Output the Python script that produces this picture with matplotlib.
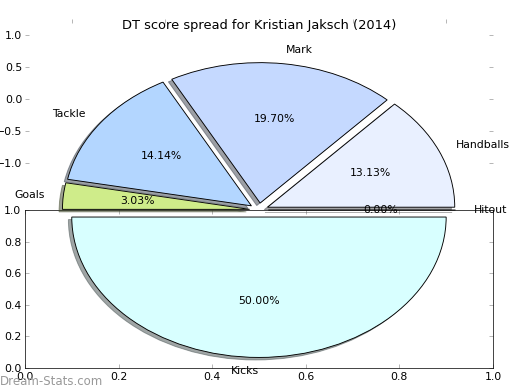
import matplotlib
matplotlib.use('Agg')
import matplotlib.pyplot as plt

# DT points per category (share of 198 total)
labels = ['Handballs', 'Mark', 'Tackle', 'Goals', 'Kicks', 'Hitout']
points = [26, 39, 28, 6, 99, 0]
colors = ['#e9f0ff', '#c5d9ff', '#b3d6ff', '#cfec8a', '#d8ffff', '#ffffff']
explode = [0.05, 0.05, 0.05, 0.05, 0.05, 0.05]

ticks_pm = [-1.0, -0.5, 0.0, 0.5, 1.0]
ticks_01 = [0.0, 0.2, 0.4, 0.6, 0.8, 1.0]

title = 'DT score spread for Kristian Jaksch (2014)'

fig = plt.figure(figsize=(8, 6), dpi=65)

# leftover axes with only grey tick marks visible
ax_t = fig.add_axes([0.048, 0.541, 0.9, 0.41], zorder=0)
ax_t.set_xlim(-1.25, 1.25)
ax_t.set_ylim(-1.25, 1.25)
ax_t.set_xticks(ticks_pm)
ax_t.set_yticks(ticks_pm)
for s in ax_t.spines.values():
    s.set_visible(False)
ax_t.tick_params(direction='in', length=4, width=1, color='#b0b0b0',
                 top=True, right=True, labelbottom=False, labelsize=12, pad=3)

# lower axes 0..1
ax_b = fig.add_axes([0.048, 0.0564, 0.9, 0.405], zorder=1)
ax_b.set_xlim(0, 1)
ax_b.set_ylim(0, 1)
ax_b.set_xticks(ticks_01)
ax_b.set_yticks(ticks_01)
ax_b.tick_params(direction='in', length=4, width=1, color='#b0b0b0',
                 top=True, right=True, labelsize=12, pad=4)
ax_b.yaxis.set_major_formatter(matplotlib.ticker.FormatStrFormatter('%.1f'))
ax_b.xaxis.set_major_formatter(matplotlib.ticker.FormatStrFormatter('%.1f'))

# the pie itself, squashed to the figure shape
ax_p = fig.add_axes([0.048, 0.0115, 0.9, 0.9], zorder=2)
wedges, texts, autotexts = ax_p.pie(points, labels=labels, colors=colors, explode=explode,
                                    autopct='%1.2f%%', shadow=True, startangle=0,
                                    wedgeprops={'edgecolor': 'black', 'linewidth': 1},
                                    textprops={'fontsize': 12})
# bottom label sits left of centre in the original
texts[labels.index('Kicks')].set_horizontalalignment('right')
ax_p.set_aspect('auto')
ax_p.set_xlim(-1.25, 1.25)
ax_p.set_ylim(-1.25, 1.25)
ax_p.set_axis_off()
ax_p.set_title(title, fontsize=14.4)

fig.text(0.0, 0.006, 'Dream-Stats.com', color='#999999', fontsize=13,
         ha='left', va='bottom', zorder=5)

fig.savefig('out.png', dpi=65)
